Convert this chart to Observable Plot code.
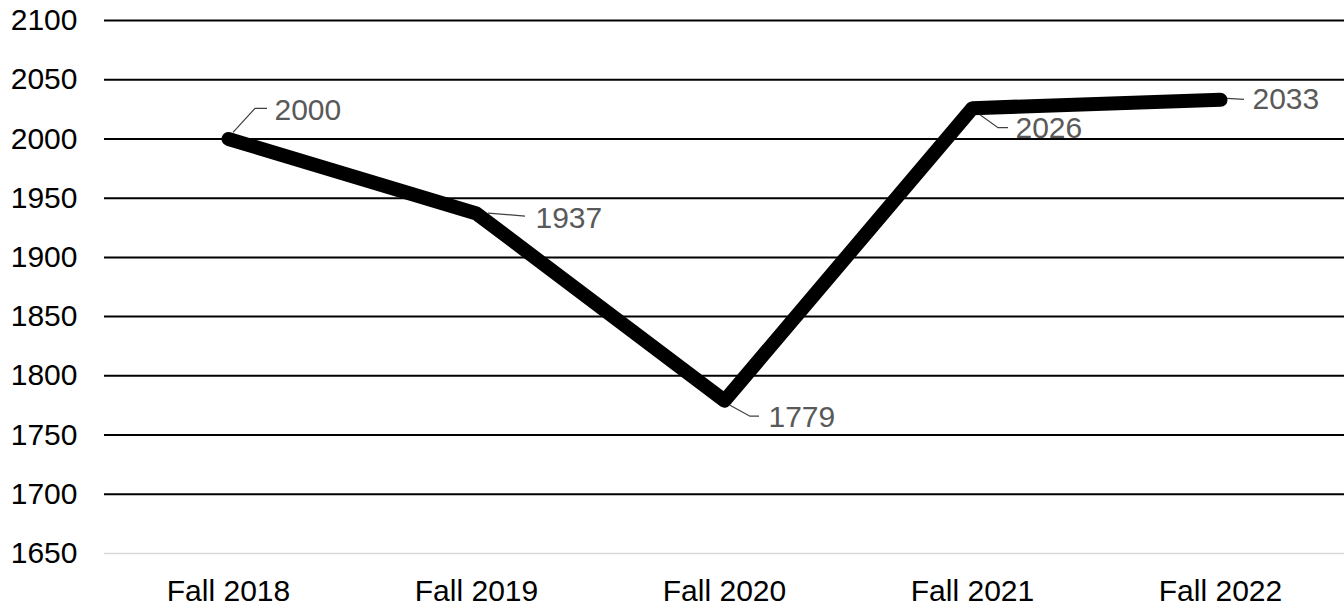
<!DOCTYPE html>
<html>
<head>
<meta charset="utf-8">
<script src="https://cdn.jsdelivr.net/npm/d3@7"></script>
<script src="https://cdn.jsdelivr.net/npm/@observablehq/plot@0.6"></script>
<style>
  html, body { margin: 0; padding: 0; background: #fff; }
  #chart svg { display: block; }
</style>
</head>
<body>
<div id="chart"></div>
<script>
// Data
const terms = ["Fall 2018", "Fall 2019", "Fall 2020", "Fall 2021", "Fall 2022"];
const enrollment = [2000, 1937, 1779, 2026, 2033];
const yTicks = [1650, 1700, 1750, 1800, 1850, 1900, 1950, 2000, 2050, 2100];

const data = terms.map((t, i) => ({term: t, value: enrollment[i]}));

// Label layout (pixel offsets: leader polyline and text start)
const labelLayout = [
  {leader: [[5, -6], [27, -30], [39, -30]], dx: 46, dy: -29},
  {leader: [[12, 0], [49, 3]], dx: 59, dy: 5},
  {leader: [[6, 5], [26, 16], [35, 16]], dx: 44, dy: 17},
  {leader: [[8, 7], [26, 20], [36, 20]], dx: 43, dy: 20},
  {leader: [[7, -1], [24, 0]], dx: 32, dy: 0}
];

const font = "'Liberation Sans', Arial, sans-serif";

const plot = Plot.plot({
  width: 1344,
  height: 608,
  marginLeft: 104,
  marginRight: 0,
  marginTop: 20,
  marginBottom: 55,
  style: {fontFamily: font, fontSize: "30px", color: "#000", background: "#fff"},
  x: {type: "point", domain: terms, padding: 0.5, label: null, tickSize: 0, tickPadding: 26},
  y: {domain: [1650, 2100], ticks: yTicks, tickFormat: d => String(d), label: null, tickSize: 0, tickPadding: 27},
  marks: [
    Plot.ruleY(yTicks.filter(v => v !== 1650), {stroke: "#000", strokeWidth: 2}),
    Plot.ruleY([1650], {stroke: "#d9d9d9", strokeWidth: 1.5}),
    Plot.line(data, {x: "term", y: "value", stroke: "#000", strokeWidth: 14, strokeLinecap: "round", strokeLinejoin: "round"}),
    ...data.map((d, i) => Plot.text([d], {
      x: "term", y: "value", text: dd => String(dd.value),
      dx: labelLayout[i].dx, dy: labelLayout[i].dy,
      textAnchor: "start", fill: "#595959", fontSize: 30, fontFamily: font
    }))
  ]
});

// Leader lines positioned through the plot's scales
const xs = plot.scale("x"), ys = plot.scale("y");
const svg = d3.select(plot.tagName.toLowerCase() === "svg" ? plot : plot.querySelector("svg"));
const g = svg.append("g").attr("fill", "none").attr("stroke", "#404040").attr("stroke-width", 1.2);
data.forEach((d, i) => {
  const px = xs.apply(d.term), py = ys.apply(d.value);
  const pts = labelLayout[i].leader.map(([ox, oy]) => [px + ox, py + oy]);
  g.append("path").attr("d", d3.line()(pts));
});

document.getElementById("chart").appendChild(plot);
</script>
</body>
</html>
